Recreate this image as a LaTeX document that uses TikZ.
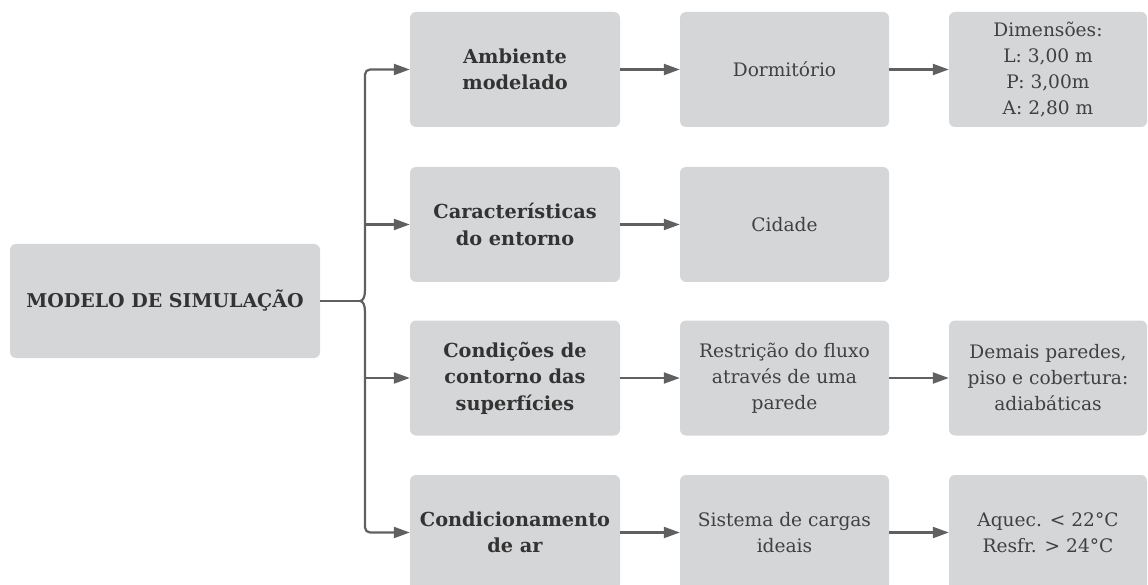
\documentclass[tikz,border=0pt]{standalone}
\usepackage{fontspec}
\setmainfont{DejaVu Serif}
\usetikzlibrary{arrows.meta}
\definecolor{boxgray}{HTML}{D5D6D8}
\definecolor{txtgray}{HTML}{333333}
\definecolor{txtreg}{HTML}{404040}
\definecolor{linegray}{HTML}{606060}
\begin{document}
\begin{tikzpicture}[x=1pt,y=-1pt,
  box/.style={fill=boxgray, rounded corners=6pt, minimum height=115pt, align=center,
    text=txtreg, inner sep=0pt, font=\fontsize{18.6}{26}\selectfont},
  mainbox/.style={box, text=txtgray, minimum width=310pt, minimum height=114pt, font=\bfseries\fontsize{19}{26}\selectfont},
  colb/.style={box, text=txtgray, minimum width=210pt, font=\bfseries\fontsize{19.3}{26.5}\selectfont},
  colc/.style={box, minimum width=209pt},
  cold/.style={box, minimum width=198pt},
  ln/.style={draw=linegray, line width=2.2pt},
  arr/.style={ln, -{Triangle[length=16pt,width=11pt]}}
]
\useasboundingbox (0,0) rectangle (1148,585);
\clip (0,0) rectangle (1148,585);

% main node
\node[mainbox] (m) at (165,301) {MODELO DE SIMULAÇÃO};

% column 2
\node[colb] (a1) at (515,69.5) {Ambiente\\modelado};
\node[colb] (a2) at (515,224.5) {Características\\do entorno};
\node[colb] (a3) at (515,378) {Condições de\\contorno das\\superfícies};
\node[colb] (a4) at (515,532.5) {Condicionamento\\de ar};

% column 3
\node[colc] (b1) at (784.5,69.5) {Dormitório};
\node[colc] (b2) at (784.5,224.5) {Cidade};
\node[colc] (b3) at (784.5,378) {Restrição do fluxo\\através de uma\\parede};
\node[colc] (b4) at (784.5,532.5) {Sistema de cargas\\ideais};

% column 4
\node[cold] (c1) at (1048,69.5) {Dimensões:\\L: 3,00 m\\P: 3,00m\\A: 2,80 m};
\node[cold] (c3) at (1048,378) {Demais paredes,\\piso e cobertura:\\adiabáticas};
\node[cold] (c4) at (1048,532.5) {Aquec. < 22°C\\Resfr. > 24°C};

% trunk coordinates
\coordinate (cusp) at (360,301);
\coordinate (bt) at (365,290);
\coordinate (bb) at (365,312);
\coordinate (t1) at (365,69.5);
\coordinate (t2) at (365,224.5);
\coordinate (t3) at (365,378);
\coordinate (t4) at (365,532.5);

% brace
\draw[ln] (m.east) -- (cusp);
\draw[ln] (bt) .. controls (365,297) and (363,301) .. (cusp)
          .. controls (363,301) and (365,305) .. (bb);

% trunk branches
\draw[arr, rounded corners=5pt] (bt) -- (t1) -- (a1.west);
\draw[arr] (t2) -- (a2.west);
\draw[arr] (t3) -- (a3.west);
\draw[arr, rounded corners=5pt] (bb) -- (t4) -- (a4.west);

% horizontal connectors
\draw[arr] (a1.east) -- (b1.west);
\draw[arr] (a2.east) -- (b2.west);
\draw[arr] (a3.east) -- (b3.west);
\draw[arr] (a4.east) -- (b4.west);
\draw[arr] (b1.east) -- (c1.west);
\draw[arr] (b3.east) -- (c3.west);
\draw[arr] (b4.east) -- (c4.west);
\end{tikzpicture}
\end{document}
